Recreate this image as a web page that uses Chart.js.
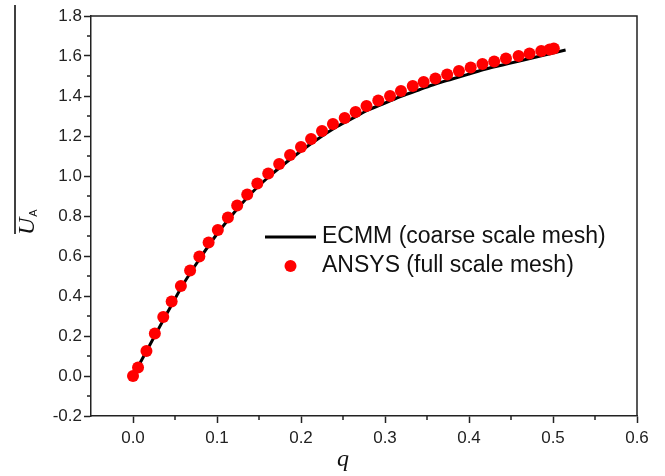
<!DOCTYPE html>
<html><head><meta charset="utf-8">
<script src="https://cdn.jsdelivr.net/npm/chart.js@4/dist/chart.umd.min.js"></script>
<style>html,body{margin:0;padding:0;background:#fff}#wrap{width:665px;height:476px;position:relative}</style>
</head><body><div id="wrap"><canvas id="c"></canvas></div>
<script>
// ECMM (coarse scale mesh) curve
const ecmmQ=[0,0.02,0.04,0.06,0.08,0.10,0.12,0.14,0.16,0.18,0.20,0.22,0.24,0.26,0.28,0.30,0.32,0.34,0.36,0.38,0.40,0.42,0.44,0.46,0.48,0.50,0.515];
const ecmmU=[0,0.155,0.31,0.46,0.59,0.71,0.815,0.91,0.99,1.06,1.125,1.185,1.24,1.285,1.33,1.365,1.40,1.43,1.46,1.485,1.51,1.535,1.555,1.575,1.595,1.615,1.63];
// ANSYS (full scale mesh) points
const ansysQ=[0,0.006,0.016,0.026,0.036,0.046,0.057,0.068,0.079,0.090,0.101,0.113,0.124,0.136,0.148,0.161,0.174,0.187,0.200,0.212,0.225,0.238,0.252,0.265,0.278,0.292,0.306,0.319,0.333,0.346,0.360,0.374,0.388,0.402,0.416,0.430,0.444,0.459,0.472,0.486,0.496,0.501];
const ansysU=[0,0.043,0.125,0.212,0.295,0.373,0.45,0.527,0.597,0.667,0.73,0.792,0.852,0.908,0.963,1.013,1.06,1.105,1.145,1.185,1.225,1.26,1.29,1.32,1.35,1.377,1.40,1.425,1.45,1.47,1.488,1.508,1.525,1.543,1.56,1.573,1.587,1.60,1.613,1.625,1.633,1.637];
const seriesLabels=["ECMM (coarse scale mesh)","ANSYS (full scale mesh)"];
const xTickVals=[0,0.1,0.2,0.3,0.4,0.5,0.6];
const xMinorVals=[0.05,0.15,0.25,0.35,0.45,0.55];
const yTickVals=[-0.2,0,0.2,0.4,0.6,0.8,1.0,1.2,1.4,1.6,1.8];
const yMinorVals=[-0.1,0.1,0.3,0.5,0.7,0.9,1.1,1.3,1.5,1.7];
const xTitle="q", yTitle="U", ySub="A";

const SANS='"Liberation Sans", Arial, sans-serif';
const SERIF='"Liberation Serif", "Times New Roman", serif';
const AX='#222';

const decor={
  id:'decor',
  afterDraw(chart){
    const ctx=chart.ctx, ca=chart.chartArea, xs=chart.scales.x, ys=chart.scales.y;
    ctx.save();
    // frame (top & right)
    ctx.strokeStyle=AX; ctx.lineWidth=1.5;
    ctx.beginPath();
    ctx.moveTo(ca.left,ca.top); ctx.lineTo(ca.right,ca.top); ctx.lineTo(ca.right,ca.bottom);
    ctx.stroke();
    // minor ticks
    ctx.beginPath();
    xMinorVals.forEach(v=>{const p=xs.getPixelForValue(v); ctx.moveTo(p,ca.bottom); ctx.lineTo(p,ca.bottom+4);});
    yMinorVals.forEach(v=>{const p=ys.getPixelForValue(v); ctx.moveTo(ca.left,p); ctx.lineTo(ca.left-4,p);});
    ctx.stroke();
    // x title
    ctx.fillStyle='#111';
    ctx.font='italic 24px '+SERIF;
    ctx.textAlign='center'; ctx.textBaseline='middle';
    ctx.fillText(xTitle, ca.left+252, 460);
    // y title (rotated) with overbar
    ctx.save();
    ctx.translate(28, ca.top+219);
    ctx.rotate(-Math.PI/2);
    ctx.font='italic 24px '+SERIF;
    ctx.textAlign='left'; ctx.textBaseline='middle';
    ctx.fillText(yTitle, 0, 0);
    const w=ctx.measureText(yTitle).width;
    ctx.font='11px '+SANS;
    ctx.fillText(ySub, w+1, 6);
    ctx.restore();
    ctx.strokeStyle='#000'; ctx.lineWidth=1.5;
    ctx.beginPath(); ctx.moveTo(15,5); ctx.lineTo(15,ca.top+218); ctx.stroke();
    // legend
    const d0=chart.data.datasets[1], d1=chart.data.datasets[0];
    const lx=ca.left+174, ly=ca.top+221;
    ctx.strokeStyle=d0.borderColor; ctx.lineWidth=d0.borderWidth;
    ctx.beginPath(); ctx.moveTo(lx,ly); ctx.lineTo(lx+51,ly); ctx.stroke();
    ctx.fillStyle=d1.backgroundColor;
    ctx.beginPath(); ctx.arc(lx+25.5,ly+29,d1.pointRadius,0,Math.PI*2); ctx.fill();
    ctx.fillStyle='#111'; ctx.font='23px '+SANS;
    ctx.textAlign='left'; ctx.textBaseline='middle';
    ctx.fillText(d0.label, lx+57, ly);
    ctx.fillText(d1.label, lx+57, ly+29);
    ctx.restore();
  }
};

new Chart(document.getElementById('c'),{
  type:'scatter',
  data:{datasets:[
    {label:seriesLabels[1], data:ansysQ.map((q,i)=>({x:q,y:ansysU[i]})), backgroundColor:'#ff0000', borderWidth:0, pointRadius:6, pointHoverRadius:6, order:0},
    {label:seriesLabels[0], data:ecmmQ.map((q,i)=>({x:q,y:ecmmU[i]})), showLine:true, borderColor:'#000', borderWidth:3, pointRadius:0, cubicInterpolationMode:'monotone', fill:false, order:1}
  ]},
  options:{
    responsive:true, maintainAspectRatio:false, animation:false, devicePixelRatio:1,
    layout:{padding:{top:16,right:28,left:0,bottom:0}},
    plugins:{legend:{display:false}, tooltip:{enabled:false}},
    scales:{
      x:{type:'linear', min:-0.05, max:0.6,
        afterBuildTicks:s=>{s.ticks=xTickVals.map(v=>({value:v}));},
        afterFit:s=>{s.height=60;},
        grid:{drawOnChartArea:false, drawTicks:true, tickLength:7, tickWidth:1.5, tickColor:AX},
        border:{display:true,color:AX,width:1.5},
        ticks:{font:{family:SANS,size:17}, color:'#222', padding:5, maxRotation:0, autoSkip:false, callback:v=>Number(v).toFixed(1)}
      },
      y:{type:'linear', min:-0.2, max:1.8,
        afterBuildTicks:s=>{s.ticks=yTickVals.map(v=>({value:v}));},
        afterFit:s=>{s.width=91;},
        grid:{drawOnChartArea:false, drawTicks:true, tickLength:7, tickWidth:1.5, tickColor:AX},
        border:{display:true,color:AX,width:1.5},
        ticks:{font:{family:SANS,size:17}, color:'#222', padding:2, autoSkip:false, callback:v=>Number(v).toFixed(1)}
      }
    }
  },
  plugins:[decor]
});
</script></body></html>
